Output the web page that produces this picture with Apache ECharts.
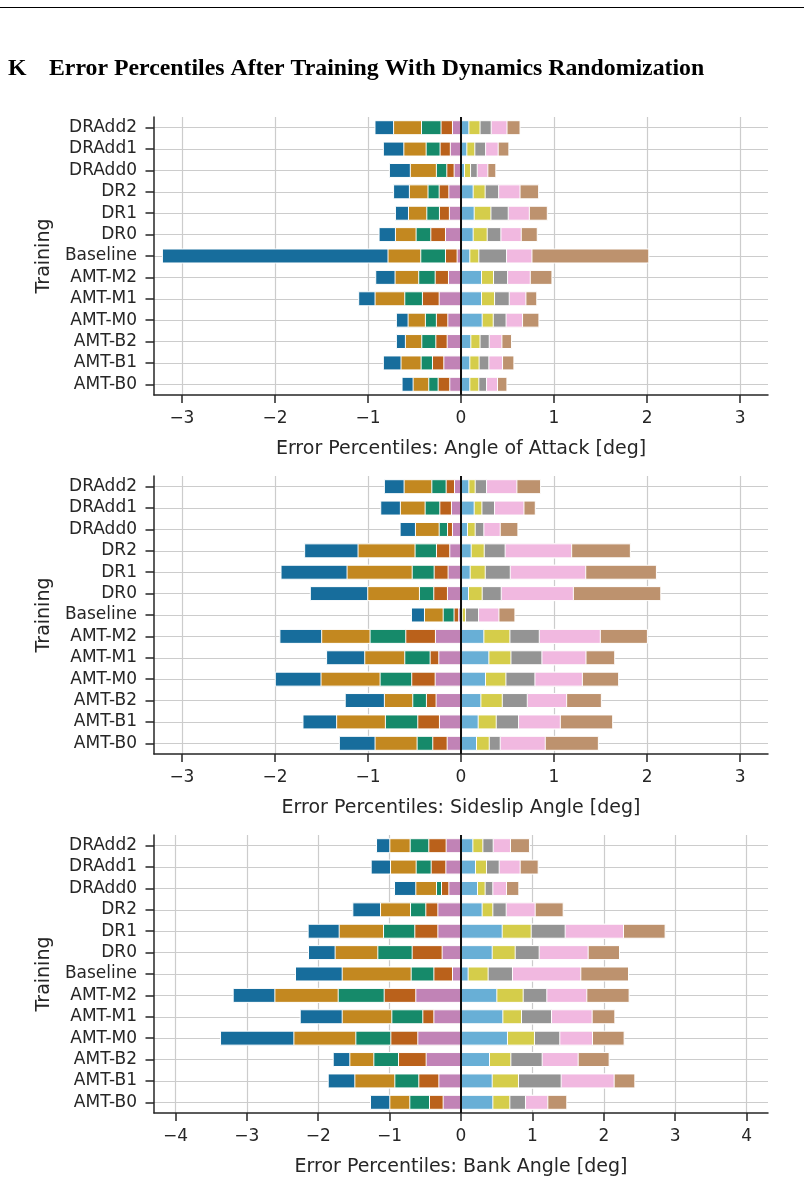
<!DOCTYPE html>
<html>
<head>
<meta charset="utf-8">
<script src="https://cdn.jsdelivr.net/npm/echarts@6/dist/echarts.min.js"></script>
<style>
html,body{margin:0;padding:0;background:#fff;}
#chart{width:804px;height:1180px;}
</style>
</head>
<body>
<div id="chart"></div>
<script>
const categories = ['DRAdd2','DRAdd1','DRAdd0','DR2','DR1','DR0','Baseline','AMT-M2','AMT-M1','AMT-M0','AMT-B2','AMT-B1','AMT-B0'];

const aoaTicks = [-3,-2,-1,0,1,2,3];
const sideslipTicks = [-3,-2,-1,0,1,2,3];
const bankTicks = [-4,-3,-2,-1,0,1,2,3,4];

// Angle of attack: lower percentiles (outermost first) and upper percentiles (innermost first)
const aoaP1 = [-0.93,-0.84,-0.775,-0.73,-0.71,-0.886,-3.215,-0.922,-1.105,-0.70,-0.70,-0.84,-0.639];
const aoaP2 = [-0.73,-0.62,-0.55,-0.56,-0.57,-0.71,-0.79,-0.714,-0.929,-0.574,-0.603,-0.65,-0.52];
const aoaP3 = [-0.43,-0.38,-0.27,-0.36,-0.373,-0.488,-0.438,-0.46,-0.61,-0.388,-0.427,-0.434,-0.352];
const aoaP4 = [-0.22,-0.23,-0.158,-0.24,-0.237,-0.33,-0.172,-0.283,-0.42,-0.27,-0.276,-0.312,-0.251];
const aoaP5 = [-0.097,-0.12,-0.079,-0.136,-0.13,-0.172,-0.047,-0.14,-0.24,-0.147,-0.154,-0.19,-0.126];
const aoaP6 = [0.09,0.068,0.043,0.136,0.147,0.136,0.10,0.226,0.226,0.233,0.111,0.10,0.10];
const aoaP7 = [0.21,0.154,0.108,0.265,0.327,0.287,0.197,0.355,0.366,0.352,0.21,0.20,0.197];
const aoaP8 = [0.33,0.27,0.18,0.41,0.513,0.434,0.495,0.506,0.524,0.49,0.309,0.305,0.28];
const aoaP9 = [0.50,0.405,0.294,0.64,0.74,0.653,0.768,0.75,0.703,0.667,0.445,0.452,0.398];
const aoaP10 = [0.64,0.52,0.38,0.84,0.933,0.825,2.024,0.983,0.82,0.843,0.549,0.574,0.499];

// Sideslip angle
const ssP1 = [-0.829,-0.868,-0.66,-1.686,-1.94,-1.625,-0.538,-1.952,-1.45,-2.002,-1.25,-1.704,-1.313];
const ssP2 = [-0.617,-0.657,-0.495,-1.112,-1.23,-1.008,-0.398,-1.503,-1.04,-1.51,-0.829,-1.342,-0.929];
const ssP3 = [-0.319,-0.391,-0.24,-0.499,-0.53,-0.452,-0.197,-0.983,-0.61,-0.875,-0.524,-0.818,-0.477];
const ssP4 = [-0.165,-0.233,-0.15,-0.269,-0.294,-0.298,-0.08,-0.599,-0.337,-0.535,-0.377,-0.47,-0.309];
const ssP5 = [-0.075,-0.108,-0.097,-0.126,-0.144,-0.151,-0.03,-0.28,-0.244,-0.283,-0.273,-0.237,-0.154];
const ssP6 = [0.09,0.147,0.075,0.115,0.104,0.086,0.018,0.251,0.305,0.269,0.219,0.19,0.172];
const ssP7 = [0.158,0.23,0.158,0.255,0.266,0.233,0.054,0.531,0.542,0.488,0.449,0.384,0.309];
const ssP8 = [0.28,0.366,0.251,0.48,0.535,0.438,0.194,0.847,0.875,0.80,0.718,0.624,0.427];
const ssP9 = [0.606,0.682,0.427,1.195,1.346,1.213,0.413,1.503,1.349,1.31,1.141,1.073,0.911];
const ssP10 = [0.861,0.804,0.617,1.826,2.106,2.153,0.585,2.009,1.658,1.70,1.514,1.636,1.482];

// Bank angle
const bkP1 = [-1.19,-1.265,-0.938,-1.522,-2.148,-2.143,-2.325,-3.198,-2.259,-3.375,-1.797,-1.867,-1.275];
const bkP2 = [-1.004,-0.994,-0.64,-1.134,-1.713,-1.77,-1.671,-2.614,-1.671,-2.348,-1.564,-1.494,-1.004];
const bkP3 = [-0.719,-0.635,-0.35,-0.714,-1.092,-1.172,-0.705,-1.727,-0.976,-1.48,-1.228,-0.934,-0.724];
const bkP4 = [-0.458,-0.425,-0.28,-0.50,-0.654,-0.691,-0.387,-1.083,-0.542,-0.99,-0.882,-0.598,-0.448];
const bkP5 = [-0.215,-0.219,-0.177,-0.331,-0.331,-0.271,-0.126,-0.64,-0.387,-0.612,-0.495,-0.317,-0.257];
const bkP6 = [0.173,0.21,0.238,0.303,0.584,0.444,0.107,0.509,0.593,0.658,0.406,0.444,0.453];
const bkP7 = [0.313,0.364,0.345,0.453,0.99,0.766,0.387,0.878,0.854,1.036,0.705,0.812,0.691];
const bkP8 = [0.458,0.542,0.453,0.64,1.466,1.102,0.728,1.209,1.275,1.391,1.144,1.41,0.91];
const bkP9 = [0.70,0.836,0.644,1.046,2.283,1.788,1.685,1.769,1.844,1.849,1.648,2.152,1.223];
const bkP10 = [0.966,1.088,0.817,1.438,2.866,2.227,2.353,2.362,2.162,2.292,2.082,2.442,1.489];

const levelColors = ['#176d9c','#c38820','#168a6a','#ba611b','#c183b6','#68afd6','#d5cd4a','#949494','#f1b8e0','#bd926e'];

const panels = [
  {title: 'Error Percentiles: Angle of Attack [deg]', lim: 3.3, ticks: aoaTicks, data: [aoaP1,aoaP2,aoaP3,aoaP4,aoaP5,aoaP6,aoaP7,aoaP8,aoaP9,aoaP10]},
  {title: 'Error Percentiles: Sideslip Angle [deg]', lim: 3.3, ticks: sideslipTicks, data: [ssP1,ssP2,ssP3,ssP4,ssP5,ssP6,ssP7,ssP8,ssP9,ssP10]},
  {title: 'Error Percentiles: Bank Angle [deg]', lim: 4.3, ticks: bankTicks, data: [bkP1,bkP2,bkP3,bkP4,bkP5,bkP6,bkP7,bkP8,bkP9,bkP10]}
];

const FONT = 'DejaVu Sans';
const INK = '#262626';
const gridTops = [117, 476, 835];
const fmt = v => v < 0 ? '\u2212' + (-v) : String(v);

const grids = [], xAxes = [], yAxes = [], series = [];
panels.forEach((p, i) => {
  grids.push({left: 154, width: 614, top: gridTops[i], height: 278});
  xAxes.push({
    type: 'value', gridIndex: i, min: -p.lim, max: p.lim,
    axisLine: {show: true, onZero: false, lineStyle: {color: INK, width: 1.5}},
    axisTick: {show: true, customValues: p.ticks, length: 8, lineStyle: {color: INK, width: 1.5}},
    axisLabel: {customValues: p.ticks, formatter: fmt, fontSize: 17, fontFamily: FONT, color: INK, margin: 15},
    splitLine: {show: true, lineStyle: {color: '#cccccc', width: 1.2}},
    name: p.title, nameLocation: 'middle', nameGap: 45,
    nameTextStyle: {fontSize: 19, fontFamily: FONT, color: INK}
  });
  yAxes.push({
    type: 'category', gridIndex: i, data: categories, inverse: true,
    axisLine: {show: true, onZero: false, lineStyle: {color: INK, width: 1.5}},
    axisTick: {show: true, alignWithLabel: true, interval: 0, length: 8.5, lineStyle: {color: INK, width: 1.5}},
    axisLabel: {interval: 0, hideOverlap: false, fontSize: 17, fontFamily: FONT, color: INK, margin: 17},
    splitLine: {show: true, alignWithLabel: true, interval: 0, lineStyle: {color: '#cccccc', width: 1.2}},
    name: 'Training', nameLocation: 'middle', nameGap: 98, nameRotate: 90,
    nameTextStyle: {fontSize: 19, fontFamily: FONT, color: INK}
  });
  // draw order: lower side outermost -> innermost, upper side outermost -> innermost
  const order = [0,1,2,3,4,9,8,7,6,5];
  order.forEach((j, k) => {
    const s = {
      type: 'bar', name: 'P' + (j + 1), xAxisIndex: i, yAxisIndex: i,
      data: p.data[j], barWidth: '70%', barGap: '-100%',
      itemStyle: {color: levelColors[j], borderColor: '#ffffff', borderWidth: 1},
      silent: true, animation: false, z: 2
    };
    if (k === order.length - 1) {
      s.markLine = {
        silent: true, symbol: ['none','none'], label: {show: false},
        lineStyle: {color: '#111111', width: 2, type: 'solid'},
        data: [{xAxis: 0}], animation: false
      };
    }
    series.push(s);
  });
});

const chart = echarts.init(document.getElementById('chart'), null, {renderer: 'canvas'});
chart.setOption({
  backgroundColor: '#ffffff',
  animation: false,
  grid: grids, xAxis: xAxes, yAxis: yAxes, series: series,
  graphic: [
    {type: 'line', shape: {x1: 0, y1: 7.5, x2: 804, y2: 7.5}, style: {stroke: '#000', lineWidth: 1}},
    {type: 'text', left: 8, top: 57, style: {text: 'K', font: 'bold 23.8px "Liberation Serif"', fill: '#000'}},
    {type: 'text', left: 49, top: 57, style: {text: 'Error Percentiles After Training With Dynamics Randomization', font: 'bold 23.8px "Liberation Serif"', fill: '#000'}}
  ]
});
</script>
</body>
</html>
